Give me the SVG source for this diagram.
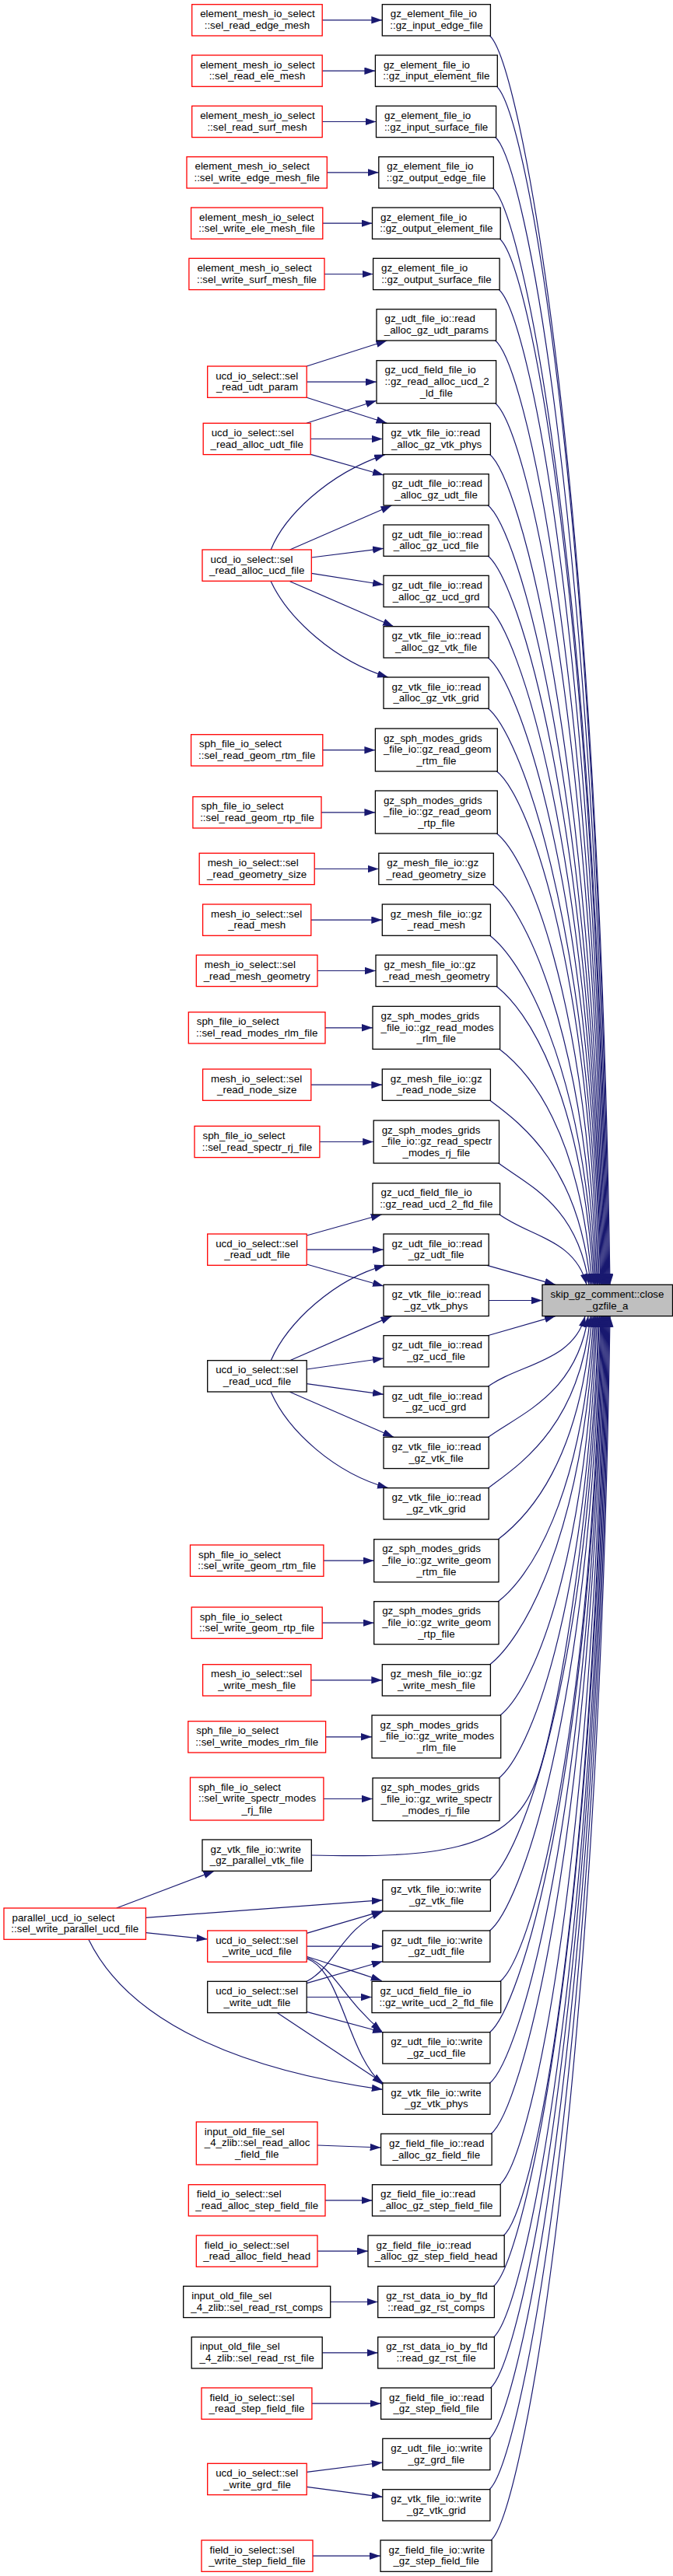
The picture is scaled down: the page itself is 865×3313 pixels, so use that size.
<svg xmlns="http://www.w3.org/2000/svg" width="865" height="3313" viewBox="0 0 865 3313">
<style>
.n rect{fill:#fff;stroke:#000;stroke-width:1.3}
.r rect{stroke:#f00}
.t rect{fill:#bfbfbf}
text{font-family:"Liberation Sans",Arial,Helvetica,sans-serif;font-size:13.33px;fill:#000}
.c{text-anchor:middle}
#edges path{fill:none;stroke:#191970;stroke-width:1.2;marker-end:url(#a)}
</style>
<defs>
<marker id="a" markerUnits="userSpaceOnUse" viewBox="0 0 14 10" markerWidth="14" markerHeight="10" refX="14" refY="4.7" orient="auto"><path d="M0,0 L14,4.7 L0,9.4 Z" fill="#191970"/></marker>
</defs>
<rect width="865" height="3313" fill="#fff"/>
<g id="edges">
<path d="M414.2,25.8 L491.3,25.8"/>
<path d="M414.2,91.2 L482.4,91.2"/>
<path d="M414.2,156.5 L483.5,156.5"/>
<path d="M420.3,221.8 L486.8,221.8"/>
<path d="M414.8,287.2 L478.5,287.2"/>
<path d="M417,352.5 L479.6,352.5"/>
<path d="M394.2,471 L497.4,438"/>
<path d="M394.2,491.2 L484,491.2"/>
<path d="M394.2,511.3 L497.4,544.3"/>
<path d="M394,544.3 L484,515.3"/>
<path d="M399.2,564.5 L491.8,564.5"/>
<path d="M399.2,584.3 L493,611"/>
<path d="M348.2,707 C365,665 420,610 495,584.6"/>
<path d="M372.6,707 L503.5,650"/>
<path d="M400.3,717 L493,705.3"/>
<path d="M400.3,737.3 L493,752"/>
<path d="M372.6,747.7 L506,805.7"/>
<path d="M348.2,747.7 C370,795 430,850 499,871"/>
<path d="M414.8,964.7 L482.4,964.7"/>
<path d="M413,1044.8 L482.4,1044.8"/>
<path d="M404.2,1117.5 L486.8,1117.5"/>
<path d="M399.8,1183.2 L491.3,1183.2"/>
<path d="M408,1248.5 L483,1248.5"/>
<path d="M418,1321.8 L479,1321.8"/>
<path d="M399.8,1395.2 L491.3,1395.2"/>
<path d="M410.9,1468.5 L480.2,1468.5"/>
<path d="M394.2,1589 L490.7,1562"/>
<path d="M394.2,1607.2 L493,1607.2"/>
<path d="M394.2,1626 L493,1654"/>
<path d="M348.2,1749.7 C370,1700 430,1645 495,1627.3"/>
<path d="M372.6,1749.7 L503.5,1692.6"/>
<path d="M394.2,1761 L493,1747"/>
<path d="M394.2,1779.7 L493,1793.3"/>
<path d="M372.6,1790.3 L506,1848.3"/>
<path d="M348.2,1790.3 C370,1840 430,1895 499,1913.7"/>
<path d="M415.9,2007.2 L480.7,2007.2"/>
<path d="M414.2,2087.2 L480.7,2087.2"/>
<path d="M399.8,2160.8 L491.3,2160.8"/>
<path d="M418.6,2233.8 L478,2233.8"/>
<path d="M415.9,2313.5 L479,2313.5"/>
<path d="M149.7,2454 L275.6,2406.3"/>
<path d="M187.4,2466.3 L491.8,2443.7"/>
<path d="M187.4,2485.7 L266.7,2494"/>
<path d="M113.7,2494 C170,2610 330,2665 491.8,2687.3"/>
<path d="M394.2,2486.3 L491.8,2457.7"/>
<path d="M394.2,2503.2 L491.8,2503.2"/>
<path d="M394.2,2516.3 C420,2525 455,2535 490.7,2547.5"/>
<path d="M394.2,2517.5 C430,2530 440,2570 490.7,2612.5"/>
<path d="M394.2,2519 C440,2535 445,2640 492,2681"/>
<path d="M394.2,2548.3 C430,2530 440,2480 491.8,2458.5"/>
<path d="M394.2,2550.7 L491.8,2522.5"/>
<path d="M394.2,2568.5 L478,2568.5"/>
<path d="M394.2,2587.3 L493,2614"/>
<path d="M356.5,2588.7 L493,2679.5"/>
<path d="M408,2759 L489.6,2762"/>
<path d="M418,2829.9 L478.5,2829.9"/>
<path d="M408,2895.2 L473,2895.2"/>
<path d="M424.7,2960.5 L485.7,2960.5"/>
<path d="M414.2,3025.9 L485.7,3025.9"/>
<path d="M400.9,3091.2 L489.6,3091.2"/>
<path d="M394.2,3179.3 L491.8,3167"/>
<path d="M394.2,3198.3 L491.8,3211.3"/>
<path d="M402,3287.2 L489,3287.2"/>
<path d="M628.4,45 C668.4,75 769,607.6 784,1652.3"/>
<path d="M637.3,110.3 C677.3,140.3 768,650 783,1652.3"/>
<path d="M635.6,175.6 C675.6,205.6 767,692.4 782,1652.3"/>
<path d="M632.3,241 C672.3,271 766,735 781,1652.3"/>
<path d="M641.2,306.3 C681.2,336.3 765,777.4 780,1652.3"/>
<path d="M640.1,371.6 C680.1,401.6 764,819.8 779,1652.3"/>
<path d="M635.6,437 C675.6,467 763,862.4 778,1652.3"/>
<path d="M635.6,517.7 C675.6,547.7 762,914.8 777,1652.3"/>
<path d="M628.4,583.6 C668.4,613.6 761,957.6 776,1652.3"/>
<path d="M626.2,649 C666.2,679 760,1000.2 775,1652.3"/>
<path d="M626.2,714.3 C666.2,744.3 759,1042.6 774,1652.3"/>
<path d="M626.2,779.6 C666.2,809.6 758,1085 773,1652.3"/>
<path d="M626.2,845 C666.2,875 757,1127.6 772,1652.3"/>
<path d="M626.2,910.3 C666.2,940.3 755.5,1170 770.5,1652.3"/>
<path d="M637.3,991 C677.3,1021 754,1222.5 769,1652.3"/>
<path d="M637.3,1071 C677.3,1101 752.5,1274.5 767.5,1652.3"/>
<path d="M632.3,1136.6 C672.3,1166.6 751,1317.1 766,1652.3"/>
<path d="M628.4,1202.3 C668.4,1232.3 749.5,1359.8 764.5,1652.3"/>
<path d="M636.8,1267.6 C676.8,1297.6 748,1402.2 763,1652.3"/>
<path d="M640.6,1348.3 C680.6,1378.3 746,1454.7 761,1652.3"/>
<path d="M628.4,1414.3 C668.4,1444.3 744,1497.6 759,1652.3"/>
<path d="M639.5,1495 C679.5,1525 742,1550 757,1652.3"/>
<path d="M640.6,1561 C680.6,1591 739,1593 754,1652.3"/>
<path d="M626,1627.3 L714,1652.3"/>
<path d="M628.2,1672.5 L697,1672.5"/>
<path d="M626,1718 L714,1692.6"/>
<path d="M626.2,1784 C666.2,1754 737,1752 752,1692.6"/>
<path d="M626.2,1849.3 C666.2,1819.3 741,1794.5 756,1692.6"/>
<path d="M626.2,1914.7 C666.2,1884.7 744,1837 759,1692.6"/>
<path d="M639,1980.7 C679,1950.7 746,1879.9 761,1692.6"/>
<path d="M639,2060.7 C679,2030.7 748,1931.9 763,1692.6"/>
<path d="M628.4,2141.7 C668.4,2111.7 749.5,1984.5 764.5,1692.6"/>
<path d="M641.7,2207 C681.7,2177 751,2027 766,1692.6"/>
<path d="M640,2287.7 C680,2257.7 752.5,2079.4 767.5,1692.6"/>
<path d="M400.3,2386 C560,2390 650,2380 685,2300 C720,2220 765,1900 769,1692.6"/>
<path d="M628.4,2418.7 C668.4,2388.7 755.5,2164.6 770.5,1692.6"/>
<path d="M628.4,2484 C668.4,2454 757,2207 772,1692.6"/>
<path d="M641.7,2549.3 C681.7,2519.3 758,2249.5 773,1692.6"/>
<path d="M628.4,2614.7 C668.4,2584.7 759,2292 774,1692.6"/>
<path d="M628.4,2680 C668.4,2650 760,2334.4 775,1692.6"/>
<path d="M630.1,2745.3 C670.1,2715.3 761,2376.9 776,1692.6"/>
<path d="M641.2,2810.7 C681.2,2780.7 762,2419.4 777,1692.6"/>
<path d="M646.2,2876 C686.2,2846 763,2461.8 778,1692.6"/>
<path d="M633.4,2941.3 C673.4,2911.3 764,2504.3 779,1692.6"/>
<path d="M633.4,3006.7 C673.4,2976.7 765,2546.8 780,1692.6"/>
<path d="M629.5,3072 C669.5,3042 766,2589.2 781,1692.6"/>
<path d="M627.9,3137.3 C667.9,3107.3 767,2631.7 782,1692.6"/>
<path d="M627.9,3202.7 C667.9,3172.7 768,2674.2 783,1692.6"/>
<path d="M630.1,3268 C670.1,3238 769,2716.6 784,1692.6"/>
</g>
<g id="T" class="n t"><rect x="697" y="1652.3" width="167.5" height="40.3"/><text x="707.5" y="1668.8">skip_gz_comment::close</text><text class="c" x="780.8" y="1683.5">_gzfile_a</text></g>
<g id="L1" class="n r"><rect x="246.7" y="5.7" width="167.5" height="40.3"/><text x="257.2" y="22.2">element_mesh_io_select</text><text class="c" x="330.5" y="36.9">::sel_read_edge_mesh</text></g>
<g id="L2" class="n r"><rect x="246.7" y="71" width="167.5" height="40.3"/><text x="257.2" y="87.5">element_mesh_io_select</text><text class="c" x="330.5" y="102.2">::sel_read_ele_mesh</text></g>
<g id="L3" class="n r"><rect x="246.7" y="136.3" width="167.5" height="40.3"/><text x="257.2" y="152.8">element_mesh_io_select</text><text class="c" x="330.5" y="167.5">::sel_read_surf_mesh</text></g>
<g id="L4" class="n r"><rect x="240" y="201.7" width="180.3" height="40.3"/><text x="250.5" y="218.2">element_mesh_io_select</text><text class="c" x="330.2" y="232.9">::sel_write_edge_mesh_file</text></g>
<g id="L5" class="n r"><rect x="245.6" y="267" width="169.2" height="40.3"/><text x="256.1" y="283.5">element_mesh_io_select</text><text class="c" x="330.2" y="298.2">::sel_write_ele_mesh_file</text></g>
<g id="L6" class="n r"><rect x="242.9" y="332.3" width="174.1" height="40.3"/><text x="253.4" y="348.8">element_mesh_io_select</text><text class="c" x="330" y="363.5">::sel_write_surf_mesh_file</text></g>
<g id="L7" class="n r"><rect x="266.7" y="471" width="127.5" height="40.3"/><text x="277.2" y="487.5">ucd_io_select::sel</text><text class="c" x="330.5" y="502.2">_read_udt_param</text></g>
<g id="L8" class="n r"><rect x="261.2" y="544.3" width="138" height="40.3"/><text x="271.7" y="560.8">ucd_io_select::sel</text><text class="c" x="330.2" y="575.5">_read_alloc_udt_file</text></g>
<g id="L9" class="n r"><rect x="260" y="707" width="140.3" height="40.3"/><text x="270.5" y="723.5">ucd_io_select::sel</text><text class="c" x="330.2" y="738.2">_read_alloc_ucd_file</text></g>
<g id="L10" class="n r"><rect x="245.6" y="944.7" width="169.2" height="40.3"/><text x="256.1" y="961.2">sph_file_io_select</text><text class="c" x="330.2" y="975.9">::sel_read_geom_rtm_file</text></g>
<g id="L11" class="n r"><rect x="247.9" y="1024.7" width="165.1" height="40.3"/><text x="258.4" y="1041.2">sph_file_io_select</text><text class="c" x="330.5" y="1055.9">::sel_read_geom_rtp_file</text></g>
<g id="L12" class="n r"><rect x="256.2" y="1097.3" width="148" height="40.3"/><text x="266.7" y="1113.8">mesh_io_select::sel</text><text class="c" x="330.2" y="1128.5">_read_geometry_size</text></g>
<g id="L13" class="n r"><rect x="260.6" y="1163" width="139.2" height="40.3"/><text x="271.1" y="1179.5">mesh_io_select::sel</text><text class="c" x="330.2" y="1194.2">_read_mesh</text></g>
<g id="L14" class="n r"><rect x="252.3" y="1228.3" width="155.7" height="40.3"/><text x="262.8" y="1244.8">mesh_io_select::sel</text><text class="c" x="330.2" y="1259.5">_read_mesh_geometry</text></g>
<g id="L15" class="n r"><rect x="242.3" y="1301.7" width="175.7" height="40.3"/><text x="252.8" y="1318.2">sph_file_io_select</text><text class="c" x="330.2" y="1332.9">::sel_read_modes_rlm_file</text></g>
<g id="L16" class="n r"><rect x="260.6" y="1375" width="139.2" height="40.3"/><text x="271.1" y="1391.5">mesh_io_select::sel</text><text class="c" x="330.2" y="1406.2">_read_node_size</text></g>
<g id="L17" class="n r"><rect x="250" y="1448.3" width="160.9" height="40.3"/><text x="260.5" y="1464.8">sph_file_io_select</text><text class="c" x="330.5" y="1479.5">::sel_read_spectr_rj_file</text></g>
<g id="L18" class="n r"><rect x="266.7" y="1587" width="127.5" height="40.3"/><text x="277.2" y="1603.5">ucd_io_select::sel</text><text class="c" x="330.5" y="1618.2">_read_udt_file</text></g>
<g id="L19" class="n"><rect x="266.7" y="1749.7" width="127.5" height="40.3"/><text x="277.2" y="1766.2">ucd_io_select::sel</text><text class="c" x="330.5" y="1780.9">_read_ucd_file</text></g>
<g id="L20" class="n r"><rect x="244.5" y="1987" width="171.4" height="40.3"/><text x="255" y="2003.5">sph_file_io_select</text><text class="c" x="330.2" y="2018.2">::sel_write_geom_rtm_file</text></g>
<g id="L21" class="n r"><rect x="246.2" y="2067" width="168" height="40.3"/><text x="256.7" y="2083.5">sph_file_io_select</text><text class="c" x="330.2" y="2098.2">::sel_write_geom_rtp_file</text></g>
<g id="L22" class="n r"><rect x="260.6" y="2140.7" width="139.2" height="40.3"/><text x="271.1" y="2157.2">mesh_io_select::sel</text><text class="c" x="330.2" y="2171.9">_write_mesh_file</text></g>
<g id="L23" class="n r"><rect x="241.8" y="2213.7" width="176.8" height="40.3"/><text x="252.3" y="2230.2">sph_file_io_select</text><text class="c" x="330.2" y="2244.9">::sel_write_modes_rlm_file</text></g>
<g id="L24" class="n r"><rect x="244.5" y="2286" width="171.4" height="55"/><text x="255" y="2302.5">sph_file_io_select</text><text x="255" y="2317.2">::sel_write_spectr_modes</text><text class="c" x="330.2" y="2331.9">_rj_file</text></g>
<g id="L25" class="n"><rect x="260" y="2366" width="140.3" height="40.3"/><text x="270.5" y="2382.5">gz_vtk_file_io::write</text><text class="c" x="330.2" y="2397.2">_gz_parallel_vtk_file</text></g>
<g id="P" class="n r"><rect x="5" y="2454" width="182.4" height="40.3"/><text x="15.5" y="2470.5">parallel_ucd_io_select</text><text class="c" x="96.2" y="2485.2">::sel_write_parallel_ucd_file</text></g>
<g id="L26" class="n r"><rect x="266.7" y="2483" width="127.5" height="40.3"/><text x="277.2" y="2499.5">ucd_io_select::sel</text><text class="c" x="330.5" y="2514.2">_write_ucd_file</text></g>
<g id="L27" class="n"><rect x="266.7" y="2548.3" width="127.5" height="40.3"/><text x="277.2" y="2564.8">ucd_io_select::sel</text><text class="c" x="330.5" y="2579.5">_write_udt_file</text></g>
<g id="L28" class="n r"><rect x="252.3" y="2729" width="155.7" height="55"/><text x="262.8" y="2745.5">input_old_file_sel</text><text x="262.8" y="2760.2">_4_zlib::sel_read_alloc</text><text class="c" x="330.2" y="2774.9">_field_file</text></g>
<g id="L29" class="n r"><rect x="242.3" y="2809.7" width="175.7" height="40.3"/><text x="252.8" y="2826.2">field_io_select::sel</text><text class="c" x="330.2" y="2840.9">_read_alloc_step_field_file</text></g>
<g id="L30" class="n r"><rect x="252.3" y="2875" width="155.7" height="40.3"/><text x="262.8" y="2891.5">field_io_select::sel</text><text class="c" x="330.2" y="2906.2">_read_alloc_field_head</text></g>
<g id="L31" class="n"><rect x="235.7" y="2940.3" width="189" height="40.3"/><text x="246.2" y="2956.8">input_old_file_sel</text><text class="c" x="330.2" y="2971.5">_4_zlib::sel_read_rst_comps</text></g>
<g id="L32" class="n"><rect x="246.2" y="3005.7" width="168" height="40.3"/><text x="256.7" y="3022.2">input_old_file_sel</text><text class="c" x="330.2" y="3036.9">_4_zlib::sel_read_rst_file</text></g>
<g id="L33" class="n r"><rect x="259" y="3071" width="141.9" height="40.3"/><text x="269.5" y="3087.5">field_io_select::sel</text><text class="c" x="330" y="3102.2">_read_step_field_file</text></g>
<g id="L34" class="n r"><rect x="266.7" y="3168.3" width="127.5" height="40.3"/><text x="277.2" y="3184.8">ucd_io_select::sel</text><text class="c" x="330.5" y="3199.5">_write_grd_file</text></g>
<g id="L35" class="n r"><rect x="259" y="3267" width="143" height="40.3"/><text x="269.5" y="3283.5">field_io_select::sel</text><text class="c" x="330.5" y="3298.2">_write_step_field_file</text></g>
<g id="M1" class="n"><rect x="491.3" y="5.7" width="139.1" height="40.3"/><text x="501.8" y="22.2">gz_element_file_io</text><text class="c" x="560.9" y="36.9">::gz_input_edge_file</text></g>
<g id="M2" class="n"><rect x="482.4" y="71" width="156.9" height="40.3"/><text x="492.9" y="87.5">gz_element_file_io</text><text class="c" x="560.9" y="102.2">::gz_input_element_file</text></g>
<g id="M3" class="n"><rect x="483.5" y="136.3" width="154.1" height="40.3"/><text x="494" y="152.8">gz_element_file_io</text><text class="c" x="560.6" y="167.5">::gz_input_surface_file</text></g>
<g id="M4" class="n"><rect x="486.8" y="201.7" width="147.5" height="40.3"/><text x="497.3" y="218.2">gz_element_file_io</text><text class="c" x="560.6" y="232.9">::gz_output_edge_file</text></g>
<g id="M5" class="n"><rect x="478.5" y="267" width="164.7" height="40.3"/><text x="489" y="283.5">gz_element_file_io</text><text class="c" x="560.9" y="298.2">::gz_output_element_file</text></g>
<g id="M6" class="n"><rect x="479.6" y="332.3" width="162.5" height="40.3"/><text x="490.1" y="348.8">gz_element_file_io</text><text class="c" x="560.9" y="363.5">::gz_output_surface_file</text></g>
<g id="M7" class="n"><rect x="484" y="397.7" width="153.6" height="40.3"/><text x="494.5" y="414.2">gz_udt_file_io::read</text><text class="c" x="560.8" y="428.9">_alloc_gz_udt_params</text></g>
<g id="M8" class="n"><rect x="484" y="463.7" width="153.6" height="55"/><text x="494.5" y="480.2">gz_ucd_field_file_io</text><text x="494.5" y="494.9">::gz_read_alloc_ucd_2</text><text class="c" x="560.8" y="509.6">_ld_file</text></g>
<g id="M9" class="n"><rect x="491.8" y="544.3" width="138.6" height="40.3"/><text x="502.3" y="560.8">gz_vtk_file_io::read</text><text class="c" x="561.1" y="575.5">_alloc_gz_vtk_phys</text></g>
<g id="M10" class="n"><rect x="493" y="609.7" width="135.2" height="40.3"/><text x="503.5" y="626.2">gz_udt_file_io::read</text><text class="c" x="560.6" y="640.9">_alloc_gz_udt_file</text></g>
<g id="M11" class="n"><rect x="493" y="675" width="135.2" height="40.3"/><text x="503.5" y="691.5">gz_udt_file_io::read</text><text class="c" x="560.6" y="706.2">_alloc_gz_ucd_file</text></g>
<g id="M12" class="n"><rect x="493" y="740.3" width="135.2" height="40.3"/><text x="503.5" y="756.8">gz_udt_file_io::read</text><text class="c" x="560.6" y="771.5">_alloc_gz_ucd_grd</text></g>
<g id="M13" class="n"><rect x="493" y="805.7" width="135.2" height="40.3"/><text x="503.5" y="822.2">gz_vtk_file_io::read</text><text class="c" x="560.6" y="836.9">_alloc_gz_vtk_file</text></g>
<g id="M14" class="n"><rect x="493" y="871" width="135.2" height="40.3"/><text x="503.5" y="887.5">gz_vtk_file_io::read</text><text class="c" x="560.6" y="902.2">_alloc_gz_vtk_grid</text></g>
<g id="M15" class="n"><rect x="482.4" y="937" width="156.9" height="55"/><text x="492.9" y="953.5">gz_sph_modes_grids</text><text x="492.9" y="968.2">_file_io::gz_read_geom</text><text class="c" x="560.9" y="982.9">_rtm_file</text></g>
<g id="M16" class="n"><rect x="482.4" y="1017" width="156.9" height="55"/><text x="492.9" y="1033.5">gz_sph_modes_grids</text><text x="492.9" y="1048.2">_file_io::gz_read_geom</text><text class="c" x="560.9" y="1062.9">_rtp_file</text></g>
<g id="M17" class="n"><rect x="486.8" y="1097.3" width="147.5" height="40.3"/><text x="497.3" y="1113.8">gz_mesh_file_io::gz</text><text class="c" x="560.6" y="1128.5">_read_geometry_size</text></g>
<g id="M18" class="n"><rect x="491.3" y="1163" width="139.1" height="40.3"/><text x="501.8" y="1179.5">gz_mesh_file_io::gz</text><text class="c" x="560.9" y="1194.2">_read_mesh</text></g>
<g id="M19" class="n"><rect x="483" y="1228.3" width="155.8" height="40.3"/><text x="493.5" y="1244.8">gz_mesh_file_io::gz</text><text class="c" x="560.9" y="1259.5">_read_mesh_geometry</text></g>
<g id="M20" class="n"><rect x="479" y="1294.3" width="163.6" height="55"/><text x="489.5" y="1310.8">gz_sph_modes_grids</text><text x="489.5" y="1325.5">_file_io::gz_read_modes</text><text class="c" x="560.8" y="1340.2">_rlm_file</text></g>
<g id="M21" class="n"><rect x="491.3" y="1375" width="139.1" height="40.3"/><text x="501.8" y="1391.5">gz_mesh_file_io::gz</text><text class="c" x="560.9" y="1406.2">_read_node_size</text></g>
<g id="M22" class="n"><rect x="480.2" y="1441" width="161.3" height="55"/><text x="490.7" y="1457.5">gz_sph_modes_grids</text><text x="490.7" y="1472.2">_file_io::gz_read_spectr</text><text class="c" x="560.9" y="1486.9">_modes_rj_file</text></g>
<g id="M23" class="n"><rect x="479" y="1521.7" width="163.6" height="40.3"/><text x="489.5" y="1538.2">gz_ucd_field_file_io</text><text class="c" x="560.8" y="1552.9">::gz_read_ucd_2_fld_file</text></g>
<g id="M24" class="n"><rect x="493" y="1587" width="135.2" height="40.3"/><text x="503.5" y="1603.5">gz_udt_file_io::read</text><text class="c" x="560.6" y="1618.2">_gz_udt_file</text></g>
<g id="M25" class="n"><rect x="493" y="1652.3" width="135.2" height="40.3"/><text x="503.5" y="1668.8">gz_vtk_file_io::read</text><text class="c" x="560.6" y="1683.5">_gz_vtk_phys</text></g>
<g id="M26" class="n"><rect x="493" y="1717.7" width="135.2" height="40.3"/><text x="503.5" y="1734.2">gz_udt_file_io::read</text><text class="c" x="560.6" y="1748.9">_gz_ucd_file</text></g>
<g id="M27" class="n"><rect x="493" y="1783" width="135.2" height="40.3"/><text x="503.5" y="1799.5">gz_udt_file_io::read</text><text class="c" x="560.6" y="1814.2">_gz_ucd_grd</text></g>
<g id="M28" class="n"><rect x="493" y="1848.3" width="135.2" height="40.3"/><text x="503.5" y="1864.8">gz_vtk_file_io::read</text><text class="c" x="560.6" y="1879.5">_gz_vtk_file</text></g>
<g id="M29" class="n"><rect x="493" y="1913.7" width="135.2" height="40.3"/><text x="503.5" y="1930.2">gz_vtk_file_io::read</text><text class="c" x="560.6" y="1944.9">_gz_vtk_grid</text></g>
<g id="M30" class="n"><rect x="480.7" y="1979.7" width="160.3" height="55"/><text x="491.2" y="1996.2">gz_sph_modes_grids</text><text x="491.2" y="2010.9">_file_io::gz_write_geom</text><text class="c" x="560.9" y="2025.6">_rtm_file</text></g>
<g id="M31" class="n"><rect x="480.7" y="2059.7" width="160.3" height="55"/><text x="491.2" y="2076.2">gz_sph_modes_grids</text><text x="491.2" y="2090.9">_file_io::gz_write_geom</text><text class="c" x="560.9" y="2105.6">_rtp_file</text></g>
<g id="M32" class="n"><rect x="491.3" y="2140.7" width="139.1" height="40.3"/><text x="501.8" y="2157.2">gz_mesh_file_io::gz</text><text class="c" x="560.9" y="2171.9">_write_mesh_file</text></g>
<g id="M33" class="n"><rect x="478" y="2206" width="165.7" height="55"/><text x="488.5" y="2222.5">gz_sph_modes_grids</text><text x="488.5" y="2237.2">_file_io::gz_write_modes</text><text class="c" x="560.9" y="2251.9">_rlm_file</text></g>
<g id="M34" class="n"><rect x="479" y="2286.7" width="163" height="55"/><text x="489.5" y="2303.2">gz_sph_modes_grids</text><text x="489.5" y="2317.9">_file_io::gz_write_spectr</text><text class="c" x="560.5" y="2332.6">_modes_rj_file</text></g>
<g id="M35" class="n"><rect x="491.8" y="2417.7" width="138.6" height="40.3"/><text x="502.3" y="2434.2">gz_vtk_file_io::write</text><text class="c" x="561.1" y="2448.9">_gz_vtk_file</text></g>
<g id="M36" class="n"><rect x="491.8" y="2483" width="138.1" height="40.3"/><text x="502.3" y="2499.5">gz_udt_file_io::write</text><text class="c" x="560.9" y="2514.2">_gz_udt_file</text></g>
<g id="M37" class="n"><rect x="478" y="2548.3" width="165.7" height="40.3"/><text x="488.5" y="2564.8">gz_ucd_field_file_io</text><text class="c" x="560.9" y="2579.5">::gz_write_ucd_2_fld_file</text></g>
<g id="M38" class="n"><rect x="491.8" y="2613.7" width="138.1" height="40.3"/><text x="502.3" y="2630.2">gz_udt_file_io::write</text><text class="c" x="560.9" y="2644.9">_gz_ucd_file</text></g>
<g id="M39" class="n"><rect x="491.8" y="2679" width="138.1" height="40.3"/><text x="502.3" y="2695.5">gz_vtk_file_io::write</text><text class="c" x="560.9" y="2710.2">_gz_vtk_phys</text></g>
<g id="M40" class="n"><rect x="489.6" y="2744.3" width="142.5" height="40.3"/><text x="500.1" y="2760.8">gz_field_file_io::read</text><text class="c" x="560.9" y="2775.5">_alloc_gz_field_file</text></g>
<g id="M41" class="n"><rect x="478.5" y="2809.7" width="164.7" height="40.3"/><text x="489" y="2826.2">gz_field_file_io::read</text><text class="c" x="560.9" y="2840.9">_alloc_gz_step_field_file</text></g>
<g id="M42" class="n"><rect x="473" y="2875" width="175.2" height="40.3"/><text x="483.5" y="2891.5">gz_field_file_io::read</text><text class="c" x="560.6" y="2906.2">_alloc_gz_step_field_head</text></g>
<g id="M43" class="n"><rect x="485.7" y="2940.3" width="149.7" height="40.3"/><text x="496.2" y="2956.8">gz_rst_data_io_by_fld</text><text class="c" x="560.6" y="2971.5">::read_gz_rst_comps</text></g>
<g id="M44" class="n"><rect x="485.7" y="3005.7" width="149.7" height="40.3"/><text x="496.2" y="3022.2">gz_rst_data_io_by_fld</text><text class="c" x="560.6" y="3036.9">::read_gz_rst_file</text></g>
<g id="M45" class="n"><rect x="489.6" y="3071" width="141.9" height="40.3"/><text x="500.1" y="3087.5">gz_field_file_io::read</text><text class="c" x="560.6" y="3102.2">_gz_step_field_file</text></g>
<g id="M46" class="n"><rect x="491.8" y="3136.3" width="138.1" height="40.3"/><text x="502.3" y="3152.8">gz_udt_file_io::write</text><text class="c" x="560.9" y="3167.5">_gz_grd_file</text></g>
<g id="M47" class="n"><rect x="491.8" y="3201.7" width="138.1" height="40.3"/><text x="502.3" y="3218.2">gz_vtk_file_io::write</text><text class="c" x="560.9" y="3232.9">_gz_vtk_grid</text></g>
<g id="M48" class="n"><rect x="489" y="3267" width="143.1" height="40.3"/><text x="499.5" y="3283.5">gz_field_file_io::write</text><text class="c" x="560.6" y="3298.2">_gz_step_field_file</text></g>
</svg>
